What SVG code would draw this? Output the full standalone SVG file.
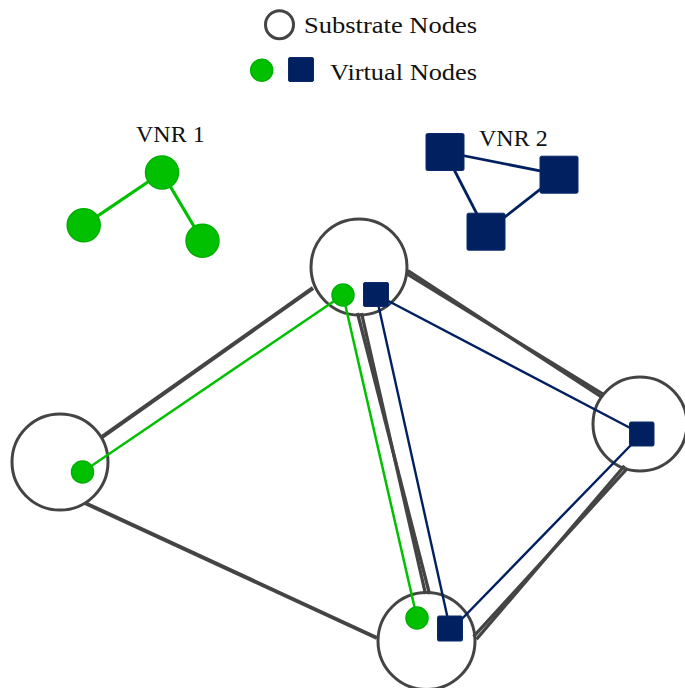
<svg xmlns="http://www.w3.org/2000/svg" width="685" height="688" viewBox="0 0 685 688">
<defs>
<style>
.lbl{font-family:"Liberation Serif","Times New Roman",serif;font-size:24px;fill:#111;}
.sub{fill:none;stroke:#444;stroke-width:3;}
.slink{stroke:#444;stroke-width:4;stroke-linecap:butt;fill:none;}
.dlink{stroke:#444;stroke-width:3.3;stroke-linecap:butt;fill:none;}
.gl{stroke:#00c000;stroke-width:2.5;fill:none;}
.gl3{stroke:#00c000;stroke-width:3.2;fill:none;}
.bl{stroke:#002060;stroke-width:2.4;fill:none;}
.bl3{stroke:#002060;stroke-width:2.8;fill:none;}
.gn{fill:#00c000;stroke:#00b000;stroke-width:1.5;}
.bn{fill:#002060;stroke:#0a2a6a;stroke-width:1;}
</style>
</defs>
<rect width="685" height="688" fill="#fff"/>

<g id="legend">
<circle cx="279.5" cy="24.7" r="14" class="sub" stroke-width="3.3"/>
<text x="304" y="33" class="lbl" textLength="173" lengthAdjust="spacingAndGlyphs">Substrate Nodes</text>
<circle cx="261.7" cy="70.3" r="11" class="gn"/>
<rect x="288.5" y="57.5" width="25" height="24" rx="1.5" class="bn"/>
<text x="330" y="80" class="lbl" textLength="147" lengthAdjust="spacingAndGlyphs">Virtual Nodes</text>
</g>

<g id="substrate-links">
<line x1="102" y1="437" x2="313" y2="288" class="slink"/>
<line x1="85" y1="503" x2="377" y2="638" class="slink"/>
<line x1="357.5" y1="313" x2="429.5" y2="594" class="dlink"/>
<line x1="361.5" y1="313" x2="425.5" y2="594" class="dlink"/>
<line x1="406.2" y1="273.4" x2="603.8" y2="394.6" class="dlink"/>
<line x1="407.8" y1="270.6" x2="602.2" y2="397.4" class="dlink"/>
<line x1="476.5" y1="639.3" x2="624.5" y2="465.8" class="dlink"/>
<line x1="473.5" y1="636.7" x2="627.5" y2="468.2" class="dlink"/>
</g>

<g id="substrate-top"><circle cx="359" cy="267" r="48" class="sub"/></g>
<g id="substrate-left"><circle cx="60" cy="462" r="48" class="sub"/></g>
<g id="substrate-bottom"><circle cx="426.5" cy="641" r="48.5" class="sub"/></g>
<g id="substrate-right"><circle cx="640" cy="424" r="47" class="sub"/></g>

<g id="virtual-links">
<line x1="343" y1="295" x2="82.5" y2="472" class="gl"/>
<line x1="343" y1="295" x2="417" y2="618" class="gl"/>
<line x1="376" y1="294.5" x2="641.7" y2="434" class="bl"/>
<line x1="376" y1="294.5" x2="450" y2="628.5" class="bl"/>
<line x1="455" y1="626" x2="641.7" y2="434" class="bl"/>
</g>

<g id="vnr1-links">
<line x1="162" y1="172.5" x2="83.7" y2="225.3" class="gl3"/>
<line x1="162" y1="172.5" x2="202.5" y2="240.7" class="gl3"/>
</g>
<g id="vnr2-links">
<line x1="445" y1="152" x2="559" y2="174.7" class="bl3"/>
<line x1="445" y1="152" x2="486" y2="231.7" class="bl3"/>
<line x1="559" y1="174.7" x2="486" y2="231.7" class="bl3"/>
</g>

<g id="vnr1">
<text x="136" y="142" class="lbl">VNR 1</text>
<circle cx="162" cy="172.5" r="16.5" class="gn"/>
<circle cx="83.7" cy="225.3" r="16.5" class="gn"/>
<circle cx="202.5" cy="240.7" r="16.5" class="gn"/>
</g>

<g id="vnr2">
<text x="479" y="146" class="lbl">VNR 2</text>
<rect x="426" y="133.5" width="38" height="37" rx="1.5" class="bn"/>
<rect x="540" y="156.2" width="38" height="37" rx="1.5" class="bn"/>
<rect x="467" y="213.2" width="38" height="37" rx="1.5" class="bn"/>
</g>

<g id="vn-top-green"><circle cx="343" cy="295" r="11" class="gn"/></g>
<g id="vn-top-blue"><rect x="363.5" y="282.5" width="25" height="24" rx="1.5" class="bn"/></g>
<g id="vn-left-green"><circle cx="82.5" cy="472" r="11" class="gn"/></g>
<g id="vn-bottom-green"><circle cx="417" cy="618" r="11" class="gn"/></g>
<g id="vn-bottom-blue"><rect x="437.5" y="616" width="25" height="25" rx="1.5" class="bn"/></g>
<g id="vn-right-blue"><rect x="629.5" y="422" width="24.5" height="24" rx="1.5" class="bn"/></g>
</svg>
